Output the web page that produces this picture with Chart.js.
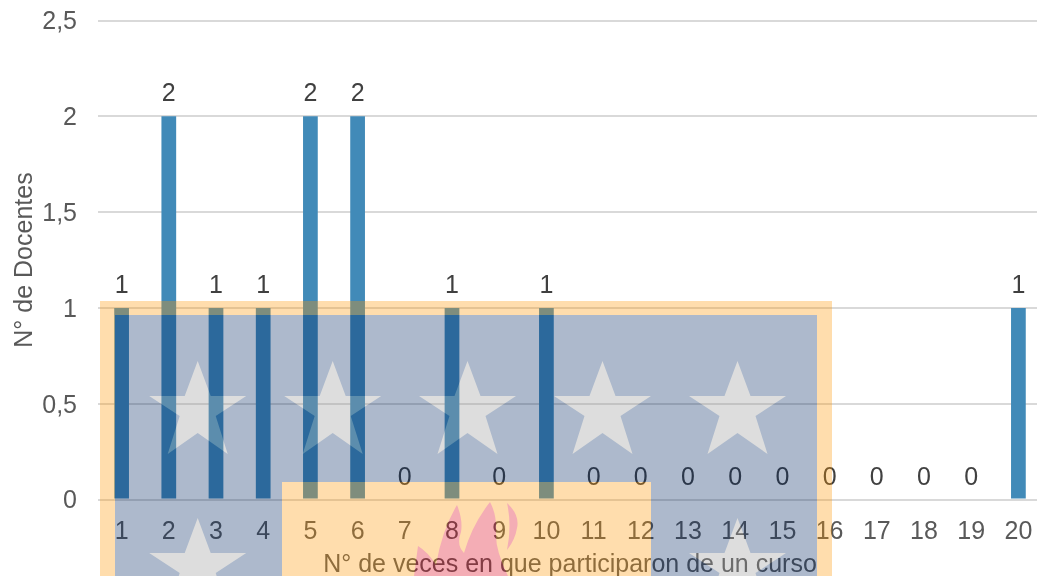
<!DOCTYPE html>
<html>
<head>
<meta charset="utf-8">
<style>
  html, body { margin: 0; padding: 0; width: 1037px; height: 576px; overflow: hidden; background: #fff; }
  #wrap { position: relative; width: 1037px; height: 576px; overflow: hidden; }
  #chart { position: absolute; left: 0; top: 0; }
  #logo { position: absolute; left: 0; top: 0; opacity: 0.32; pointer-events: none; }
</style>
<script src="https://cdn.jsdelivr.net/npm/chart.js@4/dist/chart.umd.js"></script>
</head>
<body>
<div id="wrap">
  <!-- canvas is a bit bigger than the window, the reference is cropped on the right and bottom -->
  <canvas id="chart" width="1042" height="580"></canvas>
  <!-- watermark sits over the chart, everything in it shows through at 32% -->
  <svg id="logo" width="1037" height="576" xmlns="http://www.w3.org/2000/svg">
    <rect x="100" y="301" width="732" height="275" fill="#fd9600"/>
    <rect x="115" y="315" width="702" height="261" fill="#002861"/>
    <g id="stars" fill="#969696"></g>
    <rect x="282" y="482" width="369" height="94" fill="#fd9600"/>
    <path fill="#de0019" d="M414 576L418 546Q428 552 436 565Q442 530 457 505Q463 520 461 532Q456 545 464 553Q472 525 490 502Q497 515 496 532Q495 550 508 576Z"/>
    <path fill="#de0019" d="M507 503Q520 515 517 528Q515 540 507 550Q512 525 507 503Z"/>
  </svg>
</div>
<script>
const categories = ["1", "2", "3", "4", "5", "6", "7", "8", "9", "10", "11", "12", "13", "14", "15", "16", "17", "18", "19", "20"];
const docentes = [1, 2, 1, 1, 2, 2, 0, 1, 0, 1, 0, 0, 0, 0, 0, 0, 0, 0, 0, 1];
const yTicks = [0, 0.5, 1, 1.5, 2, 2.5];

const FONT = "'Liberation Sans', Arial, sans-serif";

// stars of the watermark
const starSpots = [[197.7, 361], [332.7, 361], [467.5, 361], [602.5, 361], [737.5, 361], [197.7, 518], [737.5, 518]];
const starShape = [[0, 0], [13, 35], [48.5, 35], [18, 55], [30, 93], [0, 72], [-30, 93], [-18, 55], [-48.5, 35], [-13, 35]];
document.getElementById("stars").innerHTML = starSpots.map(([x, y]) =>
  '<polygon points="' + starShape.map(([dx, dy]) => (x + dx) + "," + (y + dy)).join(" ") + '"/>'
).join("");

// no datalabels plugin here, so the value labels are drawn by hand
const valueLabels = {
  id: "valueLabels",
  afterDatasetsDraw(chart) {
    const ctx = chart.ctx;
    const bars = chart.getDatasetMeta(0).data;
    ctx.save();
    ctx.font = "25px " + FONT;
    ctx.fillStyle = "#404040";
    ctx.textAlign = "center";
    ctx.textBaseline = "alphabetic";
    bars.forEach((bar, i) => {
      ctx.fillText(String(docentes[i]), bar.x, bar.y - 15);
    });
    ctx.restore();
  },
};

new Chart(document.getElementById("chart"), {
  type: "bar",
  data: {
    labels: categories,
    datasets: [
      {
        label: "N° de Docentes",
        data: docentes,
        backgroundColor: "#418ab8",
        barPercentage: 1,
        categoryPercentage: 0.312,
      },
    ],
  },
  options: {
    responsive: false,
    animation: false,
    layout: { padding: { top: 20.5, left: 0, right: 0, bottom: 0 } },
    plugins: { legend: { display: false }, tooltip: { enabled: false } },
    scales: {
      x: {
        grid: { display: false },
        border: { display: false },
        ticks: {
          color: "#595959",
          font: { family: FONT, size: 25 },
          padding: 10,
          maxRotation: 0,
          autoSkip: false,
        },
        title: {
          display: true,
          text: "N° de veces en que participaron de un curso",
          color: "#595959",
          font: { family: FONT, size: 25 },
          padding: 0,
        },
        afterFit(scale) {
          scale.height = 80.5;
          // keep the plot running right up to the canvas edge
          scale.paddingLeft = 0;
          scale.paddingRight = 0;
        },
      },
      y: {
        min: 0,
        max: 2.5,
        afterBuildTicks(scale) {
          scale.ticks = yTicks.map((v) => ({ value: v }));
        },
        grid: { color: "#d9d9d9", lineWidth: 2, drawTicks: false },
        border: { display: false },
        ticks: {
          color: "#595959",
          font: { family: FONT, size: 25 },
          padding: 21,
          labelOffset: 2,
          callback: (v) => String(v).replace(".", ","),
        },
        title: {
          display: true,
          text: "N° de Docentes",
          color: "#595959",
          font: { family: FONT, size: 25 },
          padding: { top: 10, bottom: 0 },
        },
        afterFit(scale) {
          scale.width = 98;
          // big tick padding would otherwise push the top gridline down
          scale.paddingTop = 0;
          scale.paddingBottom = 0;
        },
      },
    },
  },
  plugins: [valueLabels],
});
</script>
</body>
</html>
